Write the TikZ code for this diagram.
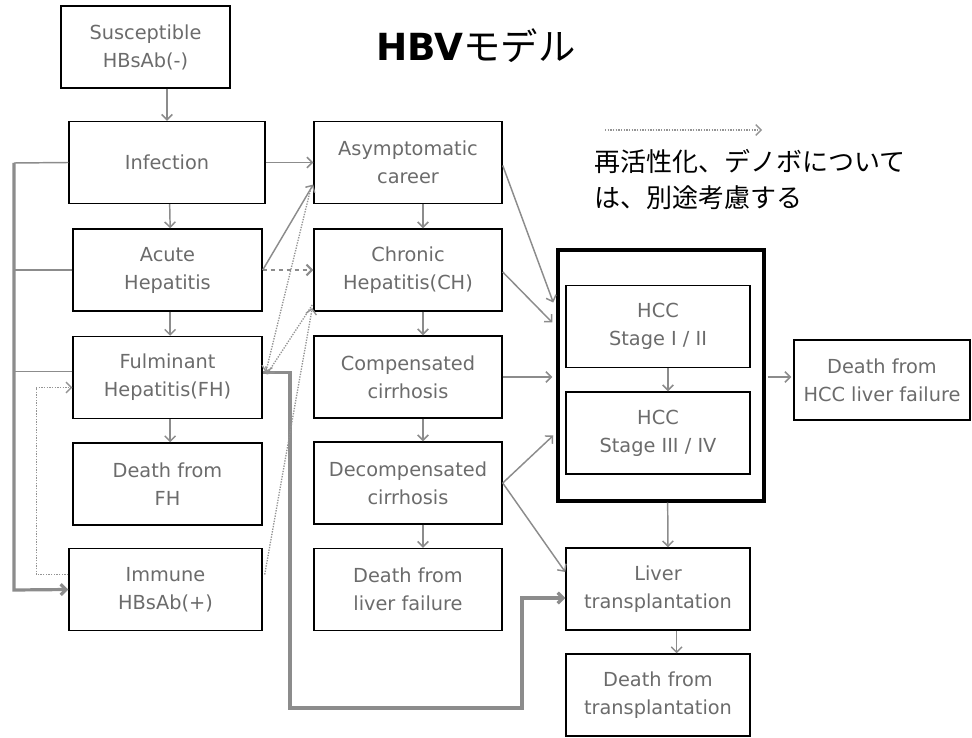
\documentclass[tikz,border=0pt]{standalone}
\usepackage{fontspec}
\setmainfont{DejaVu Sans}
\newfontfamily\jpfont{Noto Sans CJK JP}
\usepackage{tikz}
\usetikzlibrary{arrows.meta,calc}

\tikzset{
  stbox/.style={draw, line width=1.1pt, inner sep=0pt, align=center,
    text=black!58, font=\fontsize{14.5}{21}\selectfont,
    minimum width=#1*0.75pt, minimum height=61.5pt},
  stbox/.default=189,
  hccbox/.style={draw, line width=2.6pt, minimum width=154.5pt, minimum height=188.25pt},
  link/.style={->, draw=black!45, line width=1.1pt},
  react/.style={->, draw=black!42, densely dotted, line width=1pt},
  bus/.style={draw=black!45, line width=2.4pt},
}

\begin{document}
\begin{tikzpicture}[x=0.75pt, y=-0.75pt, >={Straight Barb[length=4pt,width=8pt]}]
\useasboundingbox (0,0) rectangle (972,738);
%%%%% Title and note %%%%%
\node[font=\fontsize{28}{30}\selectfont] (title) at (476,46) {\textbf{HBV}{\jpfont モデル}};
\coordinate (noteL) at (605,130);
\coordinate (noteR) at (762,130);
\draw[react] (noteL) -- (noteR);
\node[anchor=north west, inner sep=0pt, align=left, font=\jpfont\fontsize{19.5}{27}\selectfont] (note) at (594,149) {再活性化、デノボについて\\は、別途考慮する};

%%%%% Acute course %%%%%
\node[stbox=169] (sus) at (145.5,47) {Susceptible\\HBsAb(-)};
\node[stbox=196] (inf) at (167,162.5) {Infection};
\node[stbox] (acu) at (167.5,270) {Acute\\Hepatitis};
\node[stbox] (ful) at (167.5,377.5) {Fulminant\\Hepatitis(FH)};
\node[stbox] (dfh) at (167.5,484) {Death from\\FH};
\node[stbox=193] (imm) at (165.5,589.5) {Immune\\HBsAb(+)};

%%%%% Chronic course %%%%%
\node[stbox=188] (asy) at (408,162.5) {Asymptomatic\\career};
\node[stbox=188] (chr) at (408,270) {Chronic\\Hepatitis(CH)};
\node[stbox=188] (cmp) at (408,377) {Compensated\\cirrhosis};
\node[stbox=188] (dec) at (408,483) {Decompensated\\cirrhosis};
\node[stbox=188] (dlf) at (408,589.5) {Death from\\liver failure};

%%%%% HCC and transplantation %%%%%
\node[hccbox] (hcc) at (661,375.5) {};
\node[stbox=184] (hcc1) at (658,326.5) {HCC\\Stage I / II};
\node[stbox=184] (hcc2) at (658,433) {HCC\\Stage III / IV};
\node[stbox=176, minimum height=60pt] (dhcc) at (882,380) {Death from\\HCC liver failure};
\node[stbox=184] (ltx) at (658,589) {Liver\\transplantation};
\node[stbox=184] (dtx) at (658,695) {Death from\\transplantation};

%%%%% Transitions %%%%%
\draw[link] (sus.south -| inf.north) -- (inf.north);
\draw[link] ([xshift=2pt]inf.south) -- ([xshift=2pt]acu.north);
\draw[link] ([xshift=2pt]acu.south) -- ([xshift=2pt]ful.north);
\draw[link] ([xshift=2pt]ful.south) -- ([xshift=2pt]dfh.north);
\draw[link] (inf.east) -- (asy.west);
\draw[link] (acu.east) -- ($(asy.west)+(0,22)$);
\draw[link, dashed, line width=1.5pt] (acu.east) -- (chr.west);
\foreach \a/\b in {asy/chr, chr/cmp, cmp/dec, dec/dlf}{
  \draw[link] ([xshift=11.25pt]\a.south) -- ([xshift=11.25pt]\b.north);
}
\draw[link] ($(asy.east)+(0,3)$) -- ($(hcc.west)+(-3,-73)$);
\draw[link] ($(chr.east)+(0,2)$) -- ($(hcc.west)+(-4,-53)$);
\draw[link] (cmp.east) -- ($(cmp.east -| hcc.west)+(-4,0)$);
\draw[link] (dec.east) -- ($(hcc.west)+(-3,60)$);
\draw[link] (dec.east) -- ($(ltx.west)+(0,-17)$);
\draw[link] ([xshift=7.5pt]hcc1.south) -- ([xshift=7.5pt]hcc2.north);
\draw[link] ([xshift=5pt]hcc.south) -- ([xshift=7.5pt]ltx.north);
\draw[link] ($(hcc.east)+(2,1.5)$) -- ($(hcc.east -| dhcc.west)+(-2,1.5)$);
\draw[link] ([xshift=14pt]ltx.south) -- ([xshift=14pt]dtx.north);

%%%%% Left bus into Immune %%%%%
\coordinate (busT) at (14,163);
\coordinate (busB) at (14,590);
\draw[link,-] (inf.west) -- (busT);
\draw[link,-] (acu.west) -- (acu.west -| busT);
\draw[link,-] ($(ful.west)+(0,-6)$) -- ($(ful.west -| busT)+(0,-6)$);
\draw[bus,->] (busT) -- (busB) -- (imm.west);

%%%%% Fulminant to transplantation %%%%%
\coordinate (fkA) at (290,708);
\coordinate (fkB) at (522,708);
\draw[bus,->] ($(ful.east)+(0,-5)$) -| (fkA) -- (fkB) |- ($(ltx.west)+(0,9)$);

%%%%% Reactivation (dotted) %%%%%
\draw[react] ($(imm.west)+(0,-15)$) -- ++(-32,0) |- ($(ful.west)+(0,10)$);
\draw[react] ($(asy.west)+(-3,28)$) -- ($(ful.east)+(3,-5)$);
\draw[react] ($(chr.west)+(-1,35)$) -- ($(ful.east)+(4,-3)$);
\draw[react] ($(imm.east)+(2,-15)$) -- ($(chr.west)+(-1,38)$);

\end{tikzpicture}
\end{document}
